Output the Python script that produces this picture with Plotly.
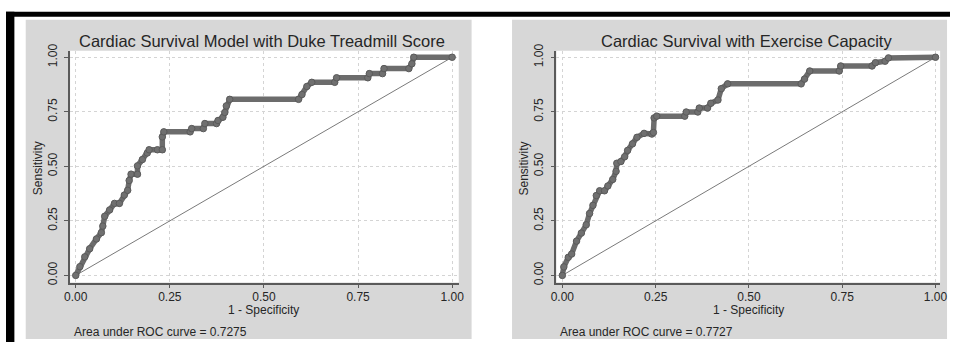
import plotly.graph_objects as go
from plotly.subplots import make_subplots

# ---- ROC data: Duke Treadmill Score model ----
duke_fpr = [0.000, 0.011, 0.024, 0.037, 0.055, 0.068, 0.072, 0.077, 0.090, 0.103,
            0.116, 0.129, 0.138, 0.142, 0.147, 0.164, 0.164, 0.177, 0.190, 0.195,
            0.217, 0.230, 0.230, 0.234, 0.304, 0.308, 0.339, 0.343, 0.374, 0.378,
            0.391, 0.396, 0.400, 0.409, 0.592, 0.601, 0.614, 0.627, 0.688, 0.693,
            0.776, 0.780, 0.815, 0.819, 0.885, 0.893, 0.898, 1.000]
duke_tpr = [0.000, 0.040, 0.085, 0.122, 0.167, 0.196, 0.226, 0.271, 0.300, 0.330,
            0.330, 0.368, 0.390, 0.435, 0.464, 0.464, 0.502, 0.531, 0.561, 0.576,
            0.576, 0.576, 0.635, 0.658, 0.658, 0.673, 0.673, 0.696, 0.696, 0.710,
            0.725, 0.747, 0.777, 0.807, 0.807, 0.829, 0.866, 0.885, 0.885, 0.906,
            0.906, 0.925, 0.925, 0.948, 0.948, 0.970, 1.000, 1.000]
duke_auc = "0.7275"

# ---- ROC data: exercise capacity model ----
ex_fpr = [0.000, 0.004, 0.016, 0.025, 0.038, 0.051, 0.064, 0.073, 0.082, 0.091,
          0.100, 0.113, 0.122, 0.135, 0.144, 0.146, 0.157, 0.167, 0.175, 0.188,
          0.200, 0.219, 0.240, 0.244, 0.246, 0.253, 0.328, 0.332, 0.363, 0.367,
          0.389, 0.398, 0.417, 0.426, 0.443, 0.640, 0.649, 0.663, 0.742, 0.746,
          0.830, 0.839, 0.865, 0.874, 1.000]
ex_tpr = [0.000, 0.039, 0.083, 0.098, 0.157, 0.194, 0.232, 0.284, 0.321, 0.366,
          0.388, 0.388, 0.410, 0.440, 0.477, 0.514, 0.522, 0.544, 0.573, 0.603,
          0.633, 0.651, 0.648, 0.655, 0.722, 0.730, 0.730, 0.749, 0.749, 0.767,
          0.767, 0.789, 0.804, 0.856, 0.878, 0.878, 0.900, 0.937, 0.937, 0.960,
          0.960, 0.975, 0.982, 0.997, 1.000]
ex_auc = "0.7727"

# reference (chance) line
diag_x = [0, 1]
diag_y = [0, 1]

panel_titles = ["Cardiac Survival Model with Duke Treadmill Score",
                "Cardiac Survival with Exercise Capacity"]
tick_vals = [0, 0.25, 0.5, 0.75, 1.0]
tick_text = ["0.00", "0.25", "0.50", "0.75", "1.00"]

W, H = 957, 344
FONT = "Liberation Sans, Arial, Helvetica, sans-serif"
PANEL_GRAY = "#d7d7d7"
CURVE_GRAY = "#6c6c6c"
TEXT = "#262626"


def px(x):
    return x / W


def py(y):
    return 1 - y / H


fig = make_subplots(rows=1, cols=2, horizontal_spacing=0.05)

panels = [
    dict(fpr=duke_fpr, tpr=duke_tpr, auc=duke_auc, col=1,
         plot=(65, 459), zero=70.7, one=452.3, panel=(20, 472)),
    dict(fpr=ex_fpr, tpr=ex_tpr, auc=ex_auc, col=2,
         plot=(558, 947), zero=564.0, one=942.3, panel=(513, 954)),
]

# vertical geometry shared by both panels
Y_TOP, Y_BOT = 45, 283
Y_ZERO, Y_UNIT = 275.6, 224.0
y_r0 = -(Y_BOT - Y_ZERO) / Y_UNIT
y_r1 = y_r0 + (Y_BOT - Y_TOP) / Y_UNIT

shapes = [
    # scanned frame edges
    dict(type="rect", xref="paper", yref="paper", x0=0, x1=1, y0=py(10), y1=py(5),
         fillcolor="black", line_width=0, layer="below"),
    dict(type="rect", xref="paper", yref="paper", x0=0, x1=px(8.5), y0=0, y1=py(5),
         fillcolor="black", line_width=0, layer="below"),
]
plot_boxes = []
annotations = []

for i, p in enumerate(panels):
    col = p["col"]
    unit = p["one"] - p["zero"]
    x0p, x1p = p["plot"]
    x_r0 = -(p["zero"] - x0p) / unit
    x_r1 = x_r0 + (x1p - x0p) / unit

    fig.add_trace(go.Scatter(x=diag_x, y=diag_y, mode="lines",
                             line=dict(color="#7a7a7a", width=1),
                             showlegend=False, hoverinfo="skip"), row=1, col=col)
    fig.add_trace(go.Scatter(x=p["fpr"], y=p["tpr"], mode="lines+markers",
                             line=dict(color=CURVE_GRAY, width=5.5),
                             marker=dict(symbol="circle", size=6.5, color="#707070",
                                         line=dict(color="#5a5a5a", width=1)),
                             showlegend=False), row=1, col=col)

    axis_common = dict(showline=True, linecolor="#5a5a5a", linewidth=1.6,
                       ticks="outside", ticklen=4, tickwidth=1.2, tickcolor="#5a5a5a",
                       tickvals=tick_vals, ticktext=tick_text,
                       tickfont=dict(family=FONT, size=12, color=TEXT),
                       showgrid=True, gridcolor="#d4d4d4", griddash="dot", gridwidth=1,
                       zeroline=False, mirror=False)
    fig.update_xaxes(domain=[px(x0p), px(x1p)], range=[x_r0, x_r1],
                     ticklabelstandoff=-2, **axis_common, row=1, col=col)
    fig.update_yaxes(domain=[py(Y_BOT), py(Y_TOP)], range=[y_r0, y_r1],
                     tickangle=-90, ticklabelstandoff=3, **axis_common, row=1, col=col)

    # gray graph region behind each plot, white plot region on top of it
    shapes.append(dict(type="rect", xref="paper", yref="paper",
                       x0=px(p["panel"][0]), x1=px(p["panel"][1]),
                       y0=py(341), y1=py(13),
                       fillcolor=PANEL_GRAY, line_width=0, layer="below"))
    plot_boxes.append(dict(type="rect", xref="paper", yref="paper",
                           x0=px(x0p), x1=px(x1p), y0=py(Y_BOT), y1=py(Y_TOP),
                           fillcolor="white", line_width=0, layer="below"))

    center = (x0p + x1p) / 2
    annotations += [
        dict(text=panel_titles[i], x=px(center - 2), y=py(34.5), xref="paper", yref="paper",
             showarrow=False, xanchor="center", yanchor="middle",
             font=dict(family=FONT, size=16.5, color=TEXT)),
        dict(text="Sensitivity", x=px(x0p - 33), y=py((Y_TOP + Y_BOT) / 2 + 2),
             xref="paper", yref="paper", textangle=-90, showarrow=False,
             xanchor="center", yanchor="middle",
             font=dict(family=FONT, size=12, color=TEXT)),
        dict(text="1 - Specificity", x=px(p["zero"] + unit * 0.5), y=py(311.5),
             xref="paper", yref="paper", showarrow=False,
             xanchor="center", yanchor="middle",
             font=dict(family=FONT, size=12, color=TEXT)),
        dict(text="Area under ROC curve = " + p["auc"], x=px(x0p + 2), y=py(334),
             xref="paper", yref="paper", showarrow=False,
             xanchor="left", yanchor="middle",
             font=dict(family=FONT, size=12, color=TEXT)),
    ]

fig.update_layout(width=W, height=H, margin=dict(l=0, r=0, t=0, b=0),
                  paper_bgcolor="white", plot_bgcolor="rgba(0,0,0,0)",
                  shapes=shapes + plot_boxes, annotations=annotations,
                  font=dict(family=FONT, color=TEXT))

fig.write_html("out.html")
